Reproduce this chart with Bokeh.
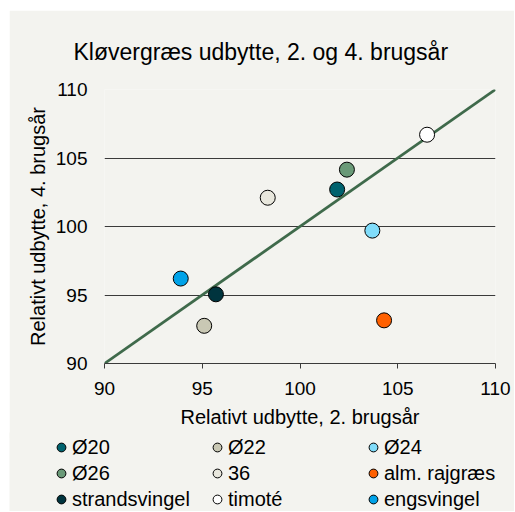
from bokeh.plotting import figure
from bokeh.models import ColumnDataSource, Legend, LegendItem, FixedTicker
from bokeh.embed import file_html
from bokeh.resources import INLINE

# ---- data ----
names = ["Ø20", "Ø22", "Ø24", "Ø26", "36", "alm. rajgræs", "strandsvingel", "timoté", "engsvingel"]
yield_yr2 = [101.9, 95.1, 103.7, 102.4, 98.35, 104.3, 95.7, 106.5, 93.9]
yield_yr4 = [102.7, 92.75, 99.7, 104.15, 102.1, 93.15, 95.05, 106.7, 96.2]
colors = ["#00626E", "#C9C8B4", "#80DCFA", "#6A9A78", "#E8E7DD", "#FF6000", "#00343E", "#FFFFFF", "#00A2E8"]
ticks = [90, 95, 100, 105, 110]

title = "Kløvergræs udbytte, 2. og 4. brugsår"
xlabel = "Relativt udbytte, 2. brugsår"
ylabel = "Relativt udbytte, 4. brugsår"

BG = "#F3F3EF"
FONT = "Liberation Sans"

p = figure(width=505, height=428, x_range=(ticks[0], ticks[-1]), y_range=(ticks[0], ticks[-1]),
           output_backend="svg", toolbar_location=None,
           background_fill_color=BG, border_fill_color=BG,
           min_border_left=95, min_border_right=19, min_border_top=79, min_border_bottom=75)
p.margin = (10, 0, 0, 9)
p.outline_line_color = None

p.title.text = title
p.title.align = "left"
p.title.offset = -31
p.title.text_font = FONT
p.title.text_font_size = "23px"
p.title.text_font_style = "normal"
p.title.text_color = "#000000"
p.title.standoff = 50

# grid
p.xgrid.grid_line_color = None
p.ygrid.grid_line_color = "#3A3A3A"
p.ygrid.grid_line_width = 1
p.ygrid.ticker = FixedTicker(ticks=ticks)

# x axis
p.xaxis.ticker = FixedTicker(ticks=ticks)
p.xaxis.axis_line_color = "#3A3A3A"
p.xaxis.major_tick_line_color = "#3A3A3A"
p.xaxis.major_tick_in = 0
p.xaxis.major_tick_out = 5
p.xaxis.minor_tick_line_color = None
p.xaxis.major_label_standoff = 13
p.xaxis.major_label_text_font = FONT
p.xaxis.major_label_text_font_size = "19px"
p.xaxis.major_label_text_color = "#000000"
p.xaxis.axis_label = xlabel
p.xaxis.axis_label_text_font = FONT
p.xaxis.axis_label_text_font_size = "20px"
p.xaxis.axis_label_text_font_style = "normal"
p.xaxis.axis_label_text_color = "#000000"
p.xaxis.axis_label_standoff = 8

# y axis
p.yaxis.ticker = FixedTicker(ticks=ticks)
p.yaxis.axis_line_color = None
p.yaxis.major_tick_line_color = None
p.yaxis.minor_tick_line_color = None
p.yaxis.major_tick_out = 0
p.yaxis.major_tick_in = 0
p.yaxis.major_label_standoff = 17
p.yaxis.major_label_text_font = FONT
p.yaxis.major_label_text_font_size = "19px"
p.yaxis.major_label_text_color = "#000000"
p.yaxis.axis_label = ylabel
p.yaxis.axis_label_text_font = FONT
p.yaxis.axis_label_text_font_size = "20px"
p.yaxis.axis_label_text_font_style = "normal"
p.yaxis.axis_label_text_color = "#000000"
p.yaxis.axis_label_standoff = 4

# 1:1 reference line
p.line(x=[ticks[0], ticks[-1]], y=[ticks[0], ticks[-1]], line_color="#3F6A4B", line_width=2.8)

for n, xv, yv, c in zip(names, yield_yr2, yield_yr4, colors):
    src = ColumnDataSource(dict(x=[xv], y=[yv]))
    p.scatter("x", "y", source=src, size=15, fill_color=c, line_color="#000000", line_width=1)

# ---- legend strip: a separate root whose frame fills the whole canvas ----
p2 = figure(width=505, height=79, x_range=(0, 1), y_range=(0, 1),
            output_backend="svg", toolbar_location=None,
            x_axis_type=None, y_axis_type=None,
            background_fill_color=BG, border_fill_color=BG,
            min_border=0, min_border_left=0, min_border_right=0,
            min_border_top=0, min_border_bottom=0)
p2.margin = (-6, 0, 0, 9)
p2.outline_line_color = None

legend_renderers = []
for n, xv, yv, c in zip(names, yield_yr2, yield_yr4, colors):
    # same points; they fall outside this strip's ranges, only the legend swatch shows
    r = p2.scatter("x", "y", source=ColumnDataSource(dict(x=[xv], y=[yv])), size=11,
                   fill_color=c, line_color="#000000", line_width=1)
    legend_renderers.append((n, r))

col_left = [41, 197, 353]
for ci in range(3):
    items = [LegendItem(label=legend_renderers[ri * 3 + ci][0],
                        renderers=[legend_renderers[ri * 3 + ci][1]]) for ri in range(3)]
    leg = Legend(items=items, location=(col_left[ci], -1), orientation="vertical",
                 padding=0, spacing=0, margin=0,
                 glyph_width=22, glyph_height=26, label_height=26, label_standoff=0,
                 label_text_font=FONT, label_text_font_size="20px", label_text_color="#000000",
                 border_line_color=None, background_fill_alpha=0)
    p2.add_layout(leg, "center")

open("out.html", "w").write(file_html([p, p2], INLINE))
